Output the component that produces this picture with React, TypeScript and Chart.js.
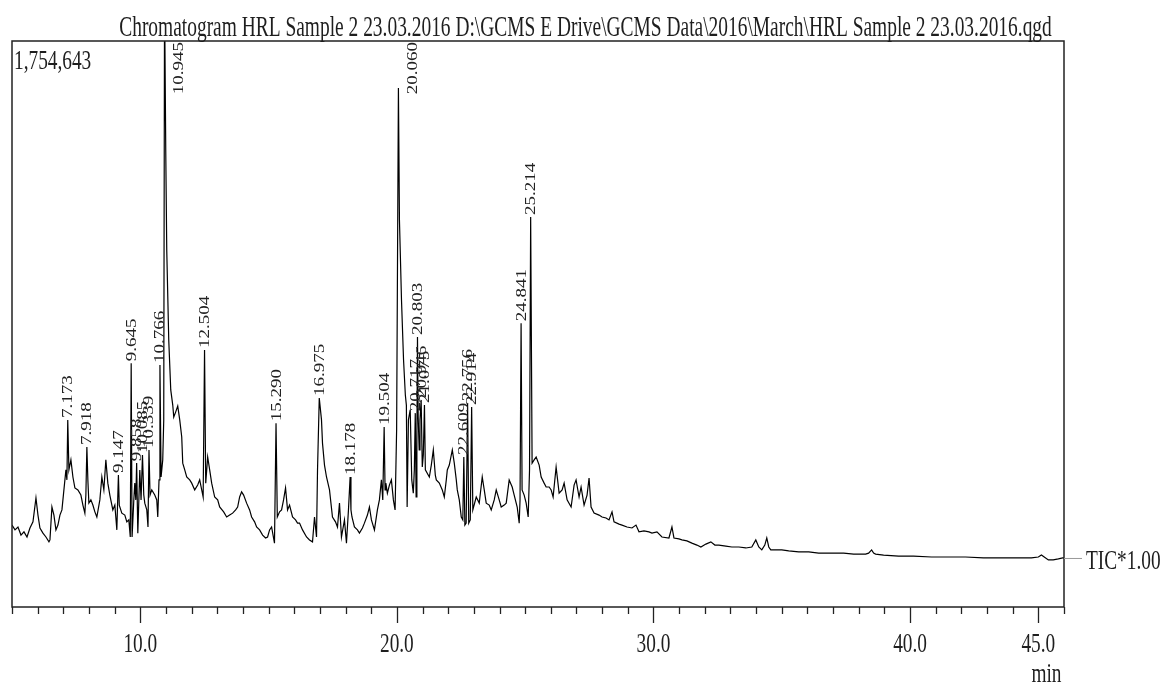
import React, { useEffect, useRef } from "react";
import { Chart, registerables } from "chart.js";

Chart.register(...registerables);

// Retention time (min) and TIC intensity (thousands of counts)
const retentionTimes = [
  5.0, 5.117, 5.233, 5.35, 5.467, 5.584, 5.7, 5.817, 5.934, 6.012,
  6.089, 6.206, 6.323, 6.44, 6.479, 6.556, 6.634, 6.712, 6.79, 6.868,
  6.946, 7.023, 7.101, 7.14, 7.173, 7.218, 7.296, 7.374, 7.451, 7.568,
  7.685, 7.763, 7.84, 7.879, 7.918, 7.957, 7.996, 8.074, 8.152, 8.23,
  8.307, 8.424, 8.502, 8.58, 8.658, 8.735, 8.813, 8.93, 9.008, 9.086,
  9.147, 9.18, 9.28, 9.397, 9.475, 9.553, 9.61, 9.645, 9.68, 9.747,
  9.786, 9.825, 9.858, 9.903, 9.981, 10.03, 10.085, 10.136, 10.175, 10.253,
  10.3, 10.339, 10.38, 10.447, 10.564, 10.642, 10.681, 10.73, 10.766, 10.81,
  10.875, 10.914, 10.945, 10.992, 11.031, 11.109, 11.187, 11.265, 11.304, 11.381,
  11.459, 11.537, 11.615, 11.654, 11.732, 11.809, 11.926, 12.004, 12.121, 12.237,
  12.315, 12.45, 12.504, 12.55, 12.626, 12.704, 12.782, 12.899, 13.016, 13.093,
  13.249, 13.366, 13.482, 13.599, 13.716, 13.794, 13.872, 13.949, 14.027, 14.144,
  14.261, 14.339, 14.455, 14.533, 14.65, 14.767, 14.883, 14.961, 15.039, 15.117,
  15.23, 15.29, 15.34, 15.428, 15.506, 15.584, 15.661, 15.739, 15.817, 15.934,
  16.051, 16.128, 16.206, 16.323, 16.479, 16.595, 16.712, 16.79, 16.868, 16.907,
  16.975, 17.062, 17.101, 17.179, 17.257, 17.374, 17.49, 17.607, 17.685, 17.763,
  17.84, 17.957, 18.035, 18.113, 18.178, 18.21, 18.25, 18.346, 18.463, 18.541,
  18.658, 18.735, 18.852, 18.93, 19.008, 19.125, 19.241, 19.319, 19.397, 19.45,
  19.504, 19.54, 19.57, 19.63, 19.708, 19.786, 19.864, 19.93, 19.99, 20.06,
  20.1, 20.18, 20.26, 20.33, 20.37, 20.4, 20.45, 20.52, 20.58, 20.64,
  20.68, 20.717, 20.75, 20.78, 20.803, 20.83, 20.87, 20.9, 20.946, 20.99,
  21.03, 21.075, 21.11, 21.265, 21.342, 21.42, 21.498, 21.537, 21.654, 21.77,
  21.848, 21.926, 21.965, 22.043, 22.16, 22.237, 22.315, 22.354, 22.432, 22.51,
  22.57, 22.609, 22.65, 22.7, 22.756, 22.8, 22.86, 22.914, 22.96, 23.093,
  23.21, 23.327, 23.405, 23.482, 23.599, 23.677, 23.794, 23.872, 23.988, 24.066,
  24.183, 24.261, 24.377, 24.494, 24.572, 24.689, 24.767, 24.8, 24.841, 24.88,
  24.961, 25.039, 25.117, 25.17, 25.214, 25.27, 25.35, 25.428, 25.545, 25.623,
  25.739, 25.817, 25.934, 26.012, 26.089, 26.206, 26.323, 26.44, 26.518, 26.634,
  26.79, 26.907, 26.984, 27.101, 27.179, 27.296, 27.412, 27.49, 27.568, 27.685,
  27.879, 27.996, 28.152, 28.268, 28.385, 28.463, 28.658, 28.774, 28.969, 29.163,
  29.319, 29.436, 29.63, 29.825, 29.942, 30.136, 30.331, 30.603, 30.72, 30.798,
  30.992, 31.109, 31.304, 31.498, 31.693, 31.848, 32.043, 32.237, 32.393, 32.549,
  32.821, 33.054, 33.327, 33.599, 33.833, 33.988, 34.105, 34.222, 34.339, 34.416,
  34.494, 34.572, 34.805, 35.0, 35.272, 35.661, 36.051, 36.44, 36.946, 37.412,
  37.802, 38.268, 38.385, 38.502, 38.58, 38.658, 38.969, 39.553, 40.136, 40.837,
  41.498, 42.16, 42.86, 43.44, 44.03, 44.73, 45.0, 45.12, 45.23, 45.39,
  45.58, 45.78, 45.95, 46.0,
];

const intensities = [
  254, 239, 248, 223, 233, 217, 245, 264, 338, 285,
  245, 229, 217, 202, 208, 310, 285, 239, 254, 285,
  301, 363, 425, 394, 580, 425, 456, 403, 369, 363,
  347, 316, 291, 347, 496, 394, 322, 332, 316, 295,
  279, 332, 403, 363, 456, 384, 347, 301, 316, 239,
  409, 316, 291, 285, 264, 270, 217, 756, 217, 332,
  384, 332, 446, 229, 425, 332, 471, 347, 322, 301,
  248, 487, 347, 363, 347, 332, 279, 394, 750, 403,
  456, 580, 1900, 1417, 1107, 828, 673, 626, 589, 605,
  623, 580, 527, 446, 425, 403, 394, 384, 363, 378,
  394, 341, 797, 384, 465, 425, 384, 341, 332, 310,
  295, 279, 285, 291, 301, 310, 341, 357, 347, 322,
  301, 279, 264, 248, 239, 223, 214, 217, 239, 248,
  198, 570, 279, 295, 301, 332, 369, 301, 316, 279,
  270, 260, 260, 239, 217, 208, 202, 279, 217, 425,
  648, 580, 508, 440, 403, 363, 279, 264, 248, 322,
  217, 270, 198, 301, 403, 301, 279, 248, 239, 229,
  245, 260, 285, 310, 270, 239, 301, 332, 394, 332,
  558, 363, 384, 353, 378, 394, 332, 301, 549, 1609,
  1200, 952, 766, 657, 626, 310, 580, 611, 394, 353,
  425, 601, 341, 518, 837, 589, 487, 580, 642, 434,
  471, 626, 425, 403, 440, 487, 409, 394, 384, 363,
  341, 394, 425, 440, 487, 446, 394, 363, 332, 279,
  270, 465, 254, 260, 632, 260, 270, 620, 301, 341,
  322, 403, 363, 322, 316, 301, 332, 363, 332, 310,
  316, 322, 394, 372, 347, 310, 260, 332, 880, 363,
  347, 322, 279, 425, 1209, 446, 456, 465, 440, 403,
  384, 372, 372, 363, 341, 434, 353, 363, 384, 332,
  310, 378, 394, 341, 372, 316, 347, 400, 310, 291,
  285, 279, 276, 270, 295, 264, 257, 254, 248, 245,
  254, 233, 236, 233, 229, 233, 217, 214, 248, 214,
  211, 208, 205, 198, 192, 186, 195, 202, 192, 192,
  189, 186, 186, 183, 186, 208, 186, 177, 192, 214,
  186, 177, 177, 177, 174, 171, 171, 167, 167, 167,
  164, 164, 167, 177, 167, 164, 161, 158, 158, 155,
  155, 155, 152, 152, 152, 152, 155, 161, 155, 146,
  146, 149, 152, 152,
];

// Labelled peaks (retention time, apex intensity)
const peakTimes = [
  7.173, 7.918, 9.147, 9.645, 9.858, 10.085, 10.339, 10.766, 10.945, 12.504,
  15.29, 16.975, 18.178, 19.504, 20.06, 20.717, 20.803, 20.946, 21.075, 22.609,
  22.756, 22.914, 24.841, 25.214,
];
const peakApex = [
  580, 496, 409, 756, 446, 471, 487, 750, 1900, 797,
  570, 648, 403, 558, 1609, 601, 837, 642, 626, 465,
  632, 620, 880, 1209,
];

const majorTickValues = [10, 20, 30, 40, 45];
const tickLabels = ["10.0", "20.0", "30.0", "40.0", "45.0"];

const titleText =
  "Chromatogram HRL Sample 2 23.03.2016 D:\\GCMS E Drive\\GCMS Data\\2016\\March\\HRL Sample 2 23.03.2016.qgd";
const maxIntensityLabel = "1,754,643";
const traceLabel = "TIC*1.00";
const xUnit = "min";

const X_MIN = 5;
const X_MAX = 46;
const Y_MAX = 1754.643;

const SERIF = '"Liberation Serif", "Times New Roman", serif';
const SQ = 0.69; // horizontal squeeze of the original image

function drawSqueezed(
  ctx: CanvasRenderingContext2D,
  text: string,
  x: number,
  y: number,
  align: CanvasTextAlign,
  sx: number
) {
  ctx.save();
  ctx.translate(x, y);
  ctx.scale(sx, 1);
  ctx.textAlign = align;
  ctx.fillText(text, 0, 0);
  ctx.restore();
}

const decorPlugin = {
  id: "decor",
  afterDatasetsDraw(chart: any) {
    const { ctx, chartArea, scales } = chart;
    const xs = scales.x;
    const ys = scales.y;
    const { left, right, top, bottom } = chartArea;

    ctx.save();
    // frame
    ctx.strokeStyle = "#222";
    ctx.lineWidth = 1.5;
    ctx.strokeRect(left, top, right - left, bottom - top);

    // ticks
    ctx.lineWidth = 1.3;
    for (let v = X_MIN; v <= X_MAX; v += 1) {
      const px = Math.round(xs.getPixelForValue(v)) + 0.5;
      const len = majorTickValues.includes(v) ? 16 : 7;
      ctx.beginPath();
      ctx.moveTo(px, bottom);
      ctx.lineTo(px, bottom + len);
      ctx.stroke();
    }
    ctx.fillStyle = "#1e1e1e";
    ctx.textBaseline = "alphabetic";
    ctx.font = `28px ${SERIF}`;
    majorTickValues.forEach((v, i) => {
      drawSqueezed(ctx, tickLabels[i], xs.getPixelForValue(v), bottom + 45, "center", SQ);
    });
    drawSqueezed(ctx, xUnit, xs.getPixelForValue(45.9), bottom + 75, "right", SQ);

    // max intensity label
    drawSqueezed(ctx, maxIntensityLabel, left + 2, top + 28, "left", SQ);

    // trace label
    const lastY = ys.getPixelForValue(intensities[intensities.length - 1]);
    ctx.strokeStyle = "#999";
    ctx.lineWidth = 1;
    ctx.beginPath();
    ctx.moveTo(right, lastY + 0.5);
    ctx.lineTo(right + 18, lastY + 0.5);
    ctx.stroke();
    drawSqueezed(ctx, traceLabel, right + 22, lastY + 11, "left", SQ);

    // title
    ctx.font = `29px ${SERIF}`;
    drawSqueezed(ctx, titleText, chart.width / 2 + 4, top - 5, "center", 0.67);

    // peak labels
    ctx.font = `19px ${SERIF}`;
    ctx.textBaseline = "middle";
    ctx.fillStyle = "#222";
    peakTimes.forEach((t, i) => {
      const text = t.toFixed(3);
      const w = ctx.measureText(text).width;
      let px = xs.getPixelForValue(t);
      let py = ys.getPixelForValue(peakApex[i]) - 2;
      if (py - w < top) {
        py = top + 1 + w;
        px += 14;
      }
      ctx.save();
      ctx.translate(px + 0.5, py);
      ctx.rotate(-Math.PI / 2);
      ctx.scale(1, 0.8);
      ctx.textAlign = "left";
      ctx.fillText(text, 0, 0);
      ctx.restore();
    });
    ctx.restore();
  },
};

export default function App() {
  const canvasRef = useRef<HTMLCanvasElement | null>(null);

  useEffect(() => {
    document.body.style.margin = "0";
    const canvas = canvasRef.current;
    if (!canvas) return;
    const points = retentionTimes.map((t, i) => ({ x: t, y: intensities[i] }));
    const chart = new Chart(canvas, {
      type: "scatter",
      data: {
        datasets: [
          {
            data: points,
            showLine: true,
            borderColor: "#000",
            borderWidth: 1.2,
            pointRadius: 0,
            tension: 0,
          },
        ],
      },
      options: {
        animation: false,
        responsive: false,
        events: [],
        layout: { padding: { left: 12, top: 41, right: 99, bottom: 77 } },
        plugins: {
          legend: { display: false },
          title: { display: false },
          tooltip: { enabled: false },
        },
        scales: {
          x: { type: "linear", min: X_MIN, max: X_MAX, display: false },
          y: { type: "linear", min: 0, max: Y_MAX, display: false },
        },
      },
      plugins: [decorPlugin],
    });
    return () => chart.destroy();
  }, []);

  return (
    <div style={{ width: 1163, height: 684, background: "#fff" }}>
      <canvas ref={canvasRef} width={1163} height={684} />
    </div>
  );
}
